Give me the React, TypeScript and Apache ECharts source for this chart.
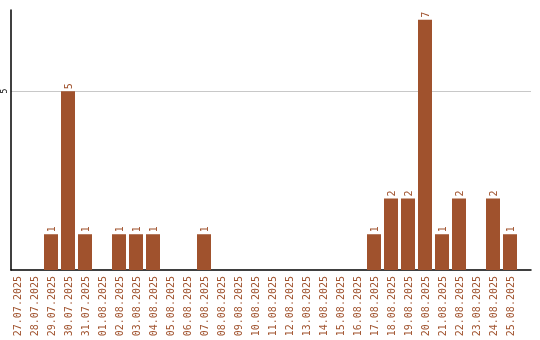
import React, { useEffect, useRef } from "react";
import * as echarts from "echarts";

const categories = [
  "27.07.2025", "28.07.2025", "29.07.2025", "30.07.2025", "31.07.2025",
  "01.08.2025", "02.08.2025", "03.08.2025", "04.08.2025", "05.08.2025",
  "06.08.2025", "07.08.2025", "08.08.2025", "09.08.2025", "10.08.2025",
  "11.08.2025", "12.08.2025", "13.08.2025", "14.08.2025", "15.08.2025",
  "16.08.2025", "17.08.2025", "18.08.2025", "19.08.2025", "20.08.2025",
  "21.08.2025", "22.08.2025", "23.08.2025", "24.08.2025", "25.08.2025",
];
const counts = [
  0, 0, 1, 5, 1,
  0, 1, 1, 1, 0,
  0, 1, 0, 0, 0,
  0, 0, 0, 0, 0,
  0, 1, 2, 2, 7,
  1, 2, 0, 2, 1,
];
const yTickLabels = [5];

const BROWN = "#A0522D";
const MONO = "'DejaVu Sans Mono', 'Liberation Mono', monospace";
const Y_MAX = 7.27;

export default function App() {
  const ref = useRef<HTMLDivElement>(null);
  useEffect(() => {
    if (!ref.current) return;
    const chart = echarts.init(ref.current, null, { renderer: "svg" });
    chart.setOption({
      animation: false,
      grid: [
        { left: 10, right: 9, top: 10, bottom: 70, containLabel: false },
        { left: 8.5, right: 21.5, top: 10, bottom: 70, containLabel: false },
      ],
      xAxis: [
        {
          gridIndex: 0,
          type: "value",
          min: 0,
          max: 1,
          axisLine: { show: true, onZero: false, lineStyle: { color: "#000", width: 1.5 } },
          axisTick: { show: false },
          axisLabel: { show: false },
          splitLine: { show: false },
        },
        {
          gridIndex: 1,
          type: "category",
          data: categories,
          axisLine: { show: false },
          axisTick: { show: false },
          axisLabel: {
            interval: 0,
            rotate: 90,
            color: BROWN,
            fontFamily: MONO,
            fontSize: 10,
            margin: 6,
            overflow: "none",
          },
        },
      ],
      yAxis: [
        {
          gridIndex: 0,
          type: "value",
          min: 0,
          max: Y_MAX,
          interval: 5,
          axisLine: { show: true, lineStyle: { color: "#000", width: 1.5 } },
          axisTick: { show: false },
          axisLabel: {
            rotate: 90,
            color: "#000",
            fontFamily: MONO,
            fontSize: 8,
            margin: 3,
            formatter: (v: number) => (yTickLabels.includes(v) ? String(v) : ""),
            showMaxLabel: false,
            hideOverlap: false,
          },
          splitLine: {
            show: true,
            showMaxLine: false,
            showMinLine: false,
            lineStyle: { color: "#c8c8c8", width: 1 },
          },
        },
        {
          gridIndex: 1,
          type: "value",
          min: 0,
          max: Y_MAX,
          show: false,
          splitLine: { show: false },
        },
      ],
      series: [
        {
          type: "bar",
          xAxisIndex: 1,
          yAxisIndex: 1,
          data: counts.map((v) => (v === 0 ? null : v)),
          barWidth: 14,
          itemStyle: { color: BROWN },
          label: {
            show: true,
            position: "top",
            rotate: 90,
            align: "left",
            verticalAlign: "middle",
            distance: 2,
            color: BROWN,
            fontFamily: MONO,
            fontSize: 10,
          },
        },
      ],
    });
    return () => chart.dispose();
  }, []);
  return (
    <div
      ref={ref}
      style={{ position: "fixed", left: 0, top: 0, width: 540, height: 340 }}
    />
  );
}
